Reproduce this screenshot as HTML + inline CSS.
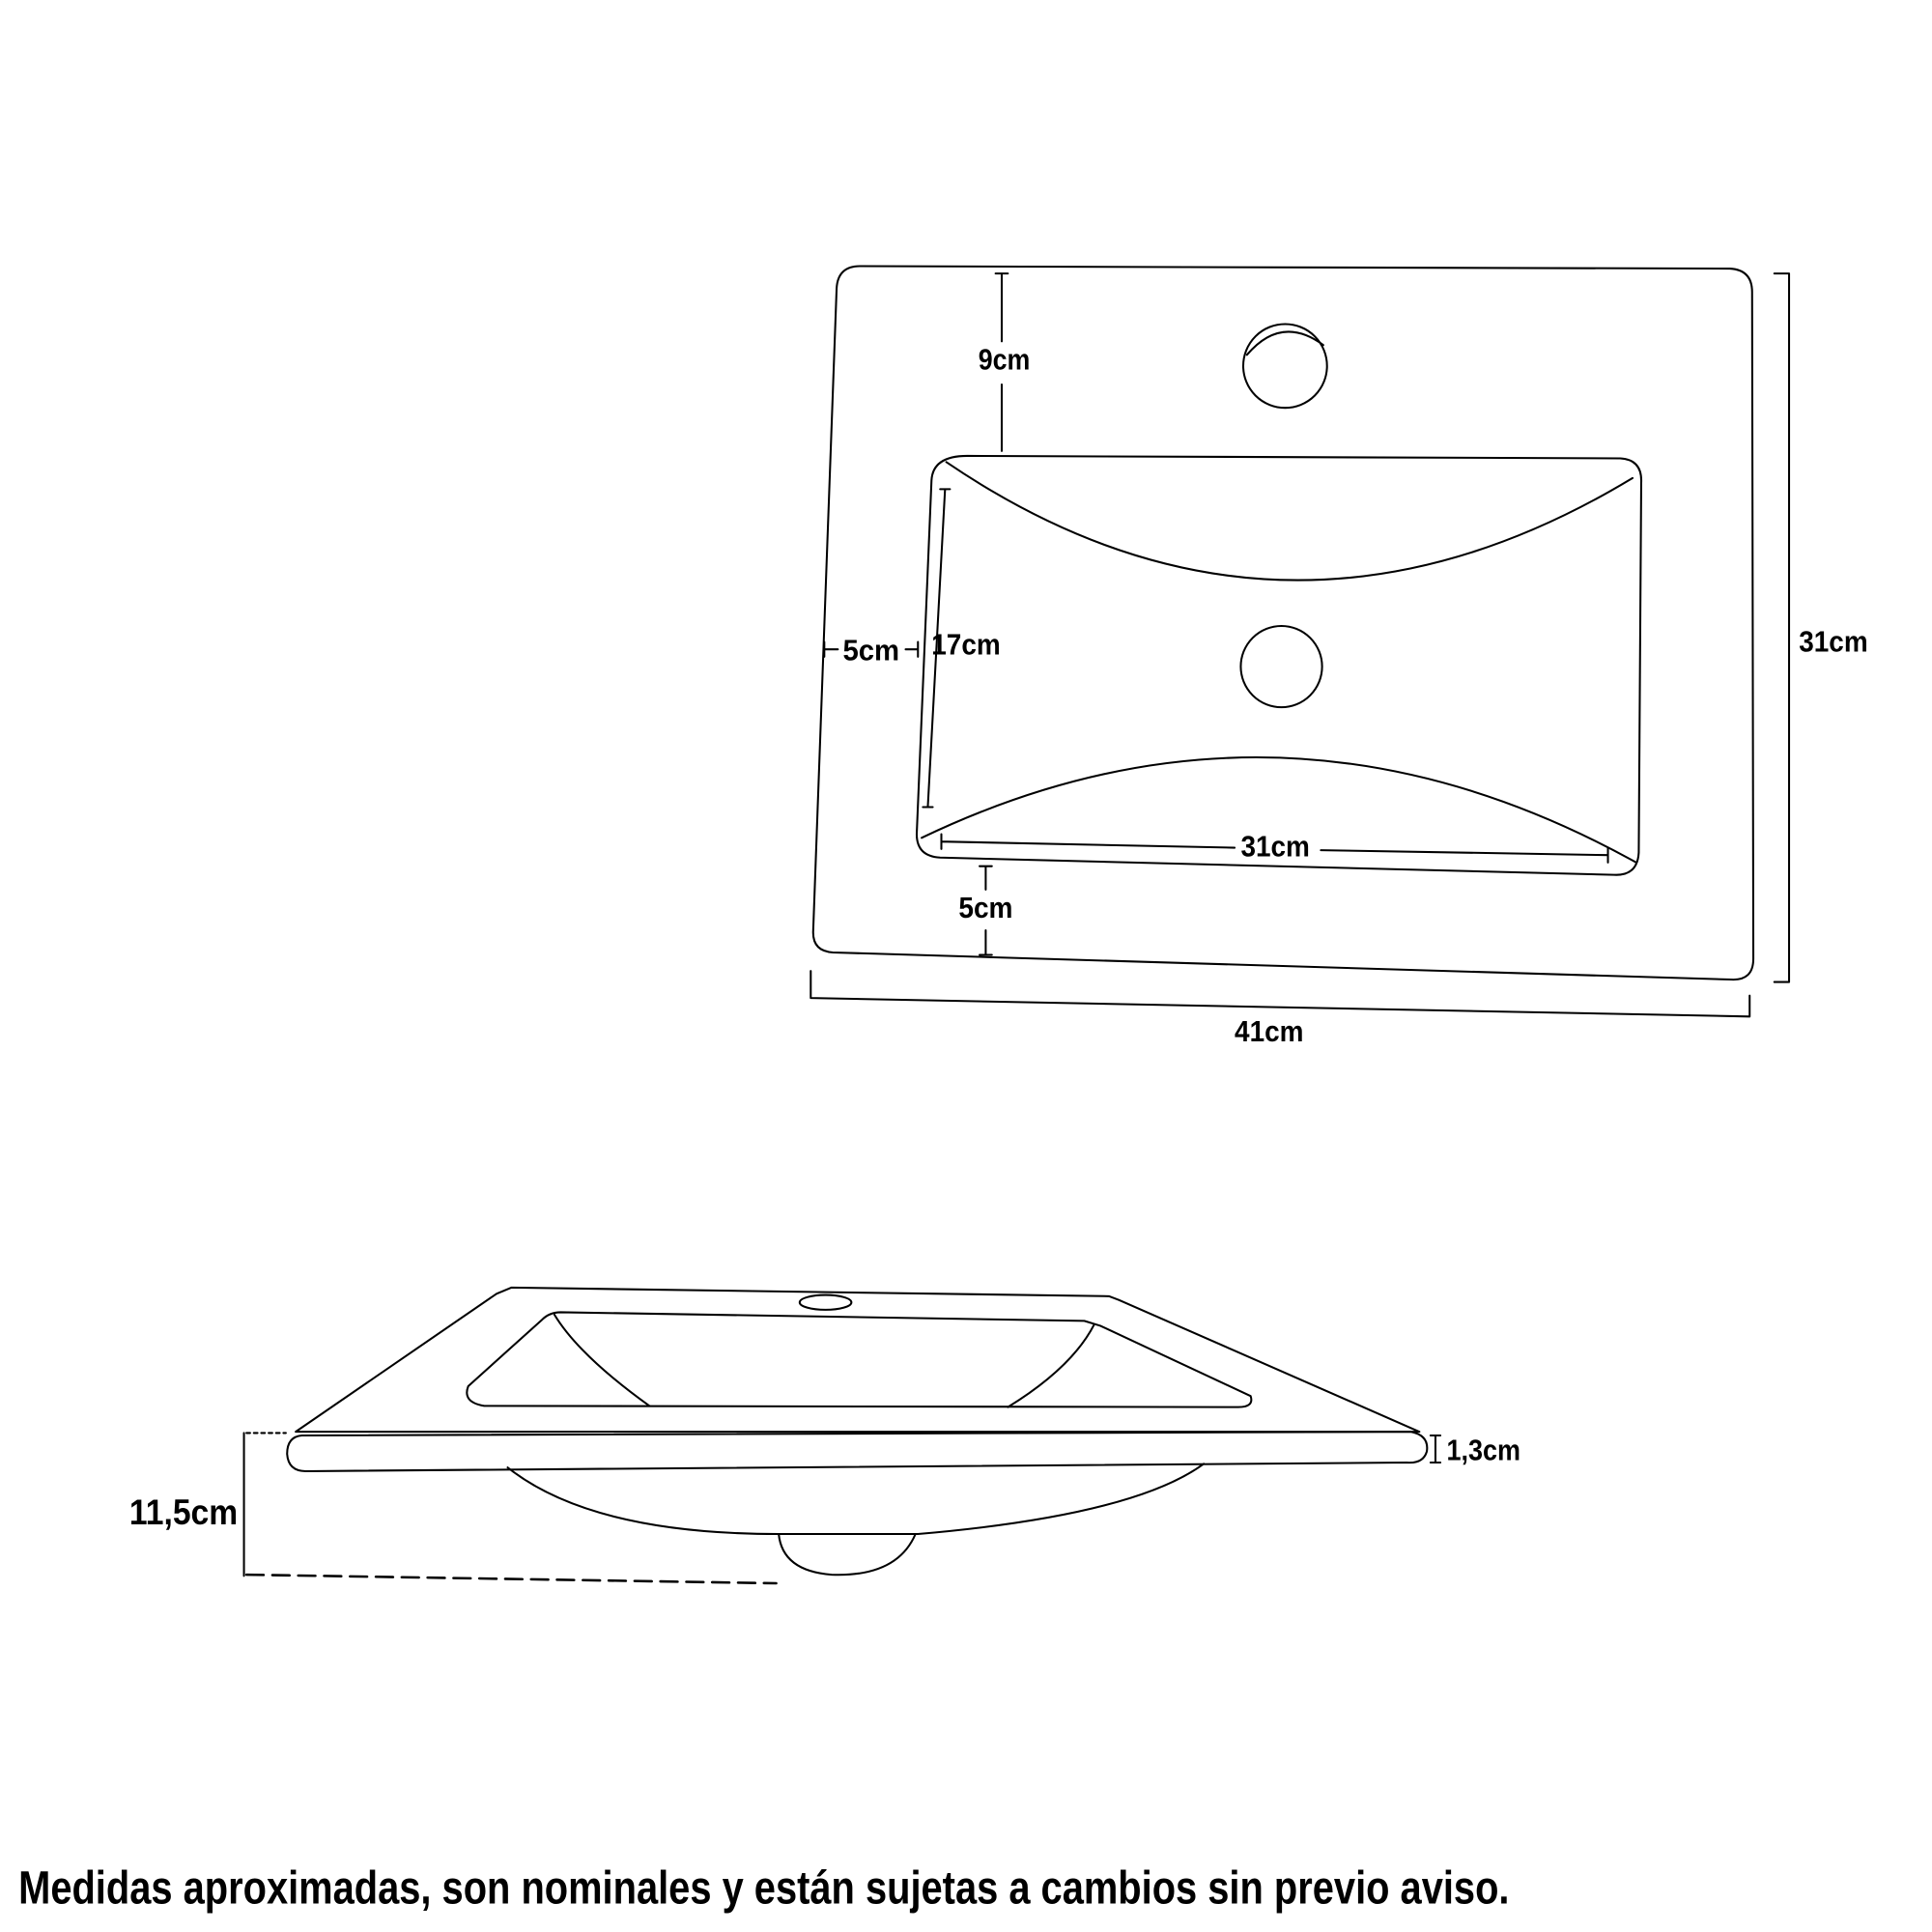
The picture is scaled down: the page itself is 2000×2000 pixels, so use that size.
<!DOCTYPE html>
<html><head><meta charset="utf-8"><style>html,body{margin:0;padding:0;background:#fff}svg{display:block}</style></head>
<body>
<svg width="2000" height="2000" viewBox="0 0 1568 1568" xmlns="http://www.w3.org/2000/svg">
<g fill="none" stroke="#000" stroke-width="1.6" stroke-linecap="round" stroke-linejoin="round">
<path d="M698,216 L1404,218 Q1422,219 1422,237 L1423,778 Q1423,796 1405,795 L676,773 Q659,772 660,755 L679,234 Q680,216 698,216 Z"/>
<path d="M785,370 L1315,372 Q1333,373 1332,392 L1330,692 Q1329,711 1310,710 L763,696 Q744,695 744,677 L756,390 Q757,370 785,370 Z"/>
<path d="M768,375 Q1040,560 1325,388"/>
<path d="M748,680 Q1040,540 1328,700"/>
<circle cx="1043" cy="297" r="34"/>
<path d="M1012,288 Q1040,255 1074,280" />
<circle cx="1040" cy="541" r="33"/>
<path d="M813,222 L813,277 M813,312 L813,366 M808,222 L818,222"/>
<path d="M1440,222 L1452,222 L1452,797 L1440,797"/>
<path d="M658,788 L658,810 L1420,825 L1420,808"/>
<path d="M767,397 L753,655 M763,397 L771,397 M749,655 L757,655"/>
<path d="M669,521 L669,533 M669,527 L680,527 M735,527 L745,527 M745,521 L745,533"/>
<path d="M764,677 L764,689 M764,683 L1002,688 M1072,690 L1305,694 M1305,688 L1305,700"/>
<path d="M800,703 L800,722 M795,703 L805,703 M800,755 L800,775 M795,775 L805,775"/>
<path d="M415,1045 L900,1052 L908,1055 L1152,1162 L240,1162 L403,1050 Z"/>
<path d="M245,1165 L1145,1162 Q1160,1165 1158,1178 Q1155,1188 1142,1187 L248,1194 Q234,1194 233,1180 Q233,1166 245,1165 Z"/>
<path d="M455,1065 L880,1072 L893,1076 L1015,1133 Q1018,1142 1005,1142 L393,1141 Q375,1138 380,1125 L440,1071 Q446,1065 455,1065 Z"/>
<path d="M450,1067 Q470,1100 527,1141"/>
<path d="M888,1075 Q870,1110 818,1142"/>
<ellipse cx="670" cy="1057" rx="21" ry="6"/>
<path d="M412,1191 Q480,1245 632,1245 L745,1245 Q920,1230 977,1188"/>
<path d="M632,1245 Q635,1275 675,1278 Q728,1280 743,1245"/>
<path d="M198,1163 L198,1279"/>
<path d="M200,1163 L232,1163" stroke-dasharray="3,3"/>
<path d="M200,1278 L630,1285" stroke-dasharray="14,7" stroke-width="2"/>
<path d="M1161,1165 L1169,1165 M1165,1165 L1165,1187 M1161,1187 L1169,1187"/>
</g>
<g font-family="Liberation Sans, Arial, sans-serif" font-weight="bold" font-size="24" fill="#000">
<text x="794" y="300" textLength="42" lengthAdjust="spacingAndGlyphs">9cm</text>
<text x="1460" y="529" textLength="56" lengthAdjust="spacingAndGlyphs">31cm</text>
<text x="684" y="536" textLength="46" lengthAdjust="spacingAndGlyphs">5cm</text>
<text x="756" y="531" textLength="56" lengthAdjust="spacingAndGlyphs">17cm</text>
<text x="1007" y="695" textLength="56" lengthAdjust="spacingAndGlyphs">31cm</text>
<text x="778" y="745" textLength="44" lengthAdjust="spacingAndGlyphs">5cm</text>
<text x="1002" y="845" textLength="56" lengthAdjust="spacingAndGlyphs">41cm</text>
<text x="1174" y="1185" textLength="60" lengthAdjust="spacingAndGlyphs">1,3cm</text>
<text x="105" y="1237" font-size="29" textLength="88" lengthAdjust="spacingAndGlyphs">11,5cm</text>
<text x="15" y="1545" font-size="38" textLength="1210" lengthAdjust="spacingAndGlyphs">Medidas aproximadas, son nominales y están sujetas a cambios sin previo aviso.</text>
</g>
</svg>
</body></html>
